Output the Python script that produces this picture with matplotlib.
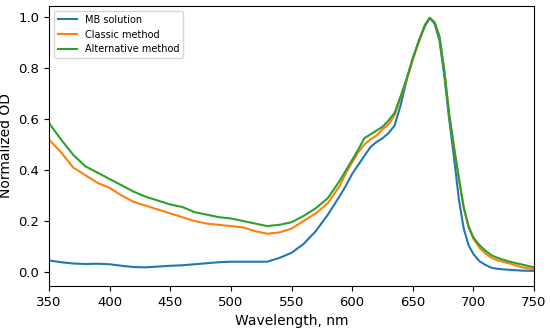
import matplotlib
matplotlib.use("Agg")
import matplotlib.pyplot as plt

wavelength = [350, 360, 370, 380, 390, 400, 410, 420, 430, 440, 450, 460, 470, 480, 490,
              500, 510, 520, 530, 540, 550, 560, 570, 580, 590, 595, 600, 605, 610, 615,
              620, 625, 630, 635, 640, 645, 650, 655, 660, 664, 668, 672, 676, 680, 684,
              688, 692, 696, 700, 705, 710, 715, 720, 730, 740, 750]

mb_solution = [0.045, 0.038, 0.033, 0.031, 0.032, 0.030, 0.024, 0.019, 0.018, 0.021, 0.024,
               0.026, 0.030, 0.034, 0.038, 0.040, 0.040, 0.040, 0.040, 0.055, 0.075, 0.110,
               0.160, 0.225, 0.300, 0.340, 0.385, 0.420, 0.455, 0.490, 0.510, 0.525, 0.545,
               0.575, 0.655, 0.755, 0.835, 0.910, 0.965, 0.998, 0.975, 0.910, 0.770, 0.600,
               0.450, 0.285, 0.170, 0.105, 0.070, 0.042, 0.027, 0.016, 0.012, 0.008, 0.005,
               0.004]

classic = [0.520, 0.470, 0.410, 0.380, 0.350, 0.330, 0.300, 0.275, 0.260, 0.245, 0.230,
           0.215, 0.200, 0.190, 0.185, 0.180, 0.175, 0.160, 0.150, 0.155, 0.170, 0.200,
           0.230, 0.270, 0.340, 0.390, 0.430, 0.470, 0.500, 0.520, 0.535, 0.560, 0.580,
           0.615, 0.685, 0.755, 0.835, 0.905, 0.970, 0.998, 0.980, 0.925, 0.790, 0.620,
           0.490, 0.365, 0.250, 0.175, 0.130, 0.095, 0.072, 0.055, 0.045, 0.033, 0.018,
           0.010]

alternative = [0.585, 0.520, 0.460, 0.415, 0.390, 0.365, 0.340, 0.315, 0.295, 0.280, 0.265,
               0.255, 0.235, 0.225, 0.215, 0.210, 0.200, 0.190, 0.180, 0.185, 0.195, 0.220,
               0.250, 0.290, 0.360, 0.400, 0.440, 0.480, 0.525, 0.540, 0.555, 0.570, 0.595,
               0.625, 0.690, 0.760, 0.840, 0.905, 0.970, 0.998, 0.980, 0.925, 0.790, 0.620,
               0.490, 0.370, 0.255, 0.180, 0.135, 0.105, 0.083, 0.065, 0.055, 0.040, 0.029,
               0.018]

labels = ["MB solution", "Classic method", "Alternative method"]
colors = ["#1f77b4", "#ff7f0e", "#2ca02c"]

fig = plt.figure(figsize=(5.5, 3.29), dpi=100)
ax = fig.add_axes([0.089, 0.131, 0.882, 0.851])
for series, lab, c in zip([mb_solution, classic, alternative], labels, colors):
    ax.plot(wavelength, series, color=c, lw=1.5, label=lab)

ax.set_xlim(350, 750)
ax.set_ylim(-0.055, 1.045)
ax.set_xticks(range(350, 751, 50))
ax.set_yticks([0.0, 0.2, 0.4, 0.6, 0.8, 1.0])
ax.tick_params(labelsize=9.5)
ax.set_xlabel("Wavelength, nm", fontsize=10)
ax.set_ylabel("Normalized OD", fontsize=10)
ax.legend(loc="upper left", fontsize=7)
fig.savefig("out.png", dpi=100)
